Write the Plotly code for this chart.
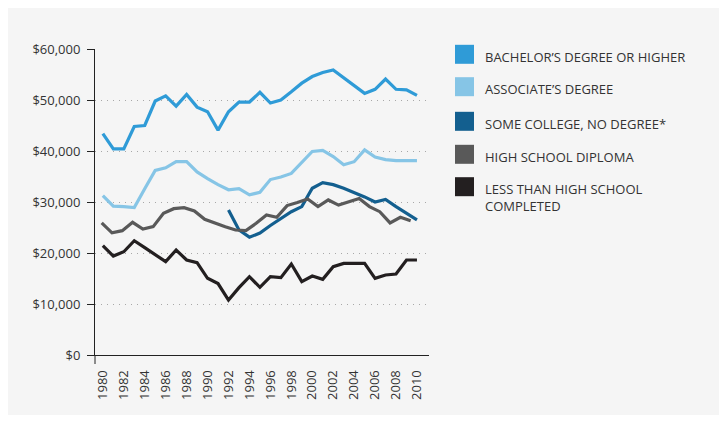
import plotly.graph_objects as go

years = list(range(1980, 2011))
years_some = list(range(1992, 2011))

bachelor = [43400, 40400, 40400, 44800, 45000, 49800, 50800, 48800, 51100, 48600,
            47700, 44100, 47700, 49600, 49600, 51500, 49400, 50000, 51600, 53300,
            54600, 55400, 55900, 54400, 52800, 51300, 52100, 54100, 52100, 52000, 50900]
associate = [31240, 29200, 29100, 28900, 32600, 36200, 36700, 37900, 37900, 35900,
             34600, 33400, 32400, 32600, 31400, 31900, 34400, 34900, 35600, 37800,
             39900, 40100, 38900, 37300, 37900, 40200, 38800, 38300, 38100, 38100, 38100]
some_college = [28430, 24510, 23100, 23900, 25400, 26800, 28100, 29100, 32700, 33800,
                33400, 32700, 31900, 31000, 30000, 30500, 29100, 27800, 26500]
high_school = [25900, 23950, 24380, 26020, 24700, 25160, 27800, 28690, 28880, 28240,
               26600, 25820, 25160, 24510, 24380, 25820, 27450, 27000, 29300, 29900,
               30600, 29100, 30400, 29400, 30050, 30700, 29100, 28100, 25900, 27000, 26330]
less_than_hs = [21430, 19400, 20250, 22400, 21040, 19610, 18300, 20590, 18630, 18100,
                15040, 14000, 10780, 13200, 15350, 13270, 15350, 15160, 17840, 14380,
                15490, 14840, 17320, 17970, 17970, 17970, 15040, 15690, 15880, 18630, 18630]

y_ticks = [0, 10000, 20000, 30000, 40000, 50000, 60000]
y_tick_text = ["$0", "$10,000", "$20,000", "$30,000", "$40,000", "$50,000", "$60,000"]
x_ticks = list(range(1980, 2011, 2))

names = ["BACHELOR’S DEGREE OR HIGHER", "ASSOCIATE’S DEGREE", "SOME COLLEGE, NO DEGREE*",
         "HIGH SCHOOL DIPLOMA", "LESS THAN HIGH SCHOOL<br>COMPLETED"]
colors = ["#2f9bd7", "#86c5e6", "#135f8f", "#595959", "#231f20"]

FONT = "Open Sans"
W, H = 711, 407
ML, MR, MT, MB = 87, 290, 41, 60
PW, PH = W - ML - MR, H - MT - MB

def px(x):  # page x -> paper
    return (x - 8 - ML) / PW

def py(y):  # page y -> paper
    return (H - MB - (y - 8)) / PH

fig = go.Figure()
fig.add_trace(go.Scatter(x=years, y=bachelor, mode="lines", line=dict(color=colors[0], width=3.2)))
fig.add_trace(go.Scatter(x=years, y=associate, mode="lines", line=dict(color=colors[1], width=3.2)))
fig.add_trace(go.Scatter(x=years, y=high_school, mode="lines", line=dict(color=colors[3], width=3.2), xaxis="x2"))
fig.add_trace(go.Scatter(x=years_some, y=some_college, mode="lines", line=dict(color=colors[2], width=3.2)))
fig.add_trace(go.Scatter(x=years, y=less_than_hs, mode="lines", line=dict(color=colors[4], width=3.2)))

rows = [54.3, 86.7, 121.3, 154.3, 186.7]
shapes = []
annotations = []
for name, col, yc in zip(names, colors, rows):
    shapes.append(dict(type="rect", xref="paper", yref="paper",
                       x0=px(455), x1=px(474), y0=py(yc + 9.5), y1=py(yc - 9.5),
                       fillcolor=col, line=dict(width=0)))
    annotations.append(dict(xref="paper", yref="paper", x=px(483), y=py(yc - 8.5),
                            xanchor="left", yanchor="top", align="left", showarrow=False,
                            text=name, font=dict(family=FONT, size=13, color="#333333")))
shapes.append(dict(type="line", xref="paper", yref="paper", x0=0, x1=0, y0=0, y1=-9 / PH,
                   line=dict(color="#222222", width=1)))

fig.update_layout(
    width=W, height=H,
    margin=dict(l=ML, r=MR, t=MT, b=MB, pad=0),
    paper_bgcolor="#f5f5f5", plot_bgcolor="#f5f5f5",
    showlegend=False,
    shapes=shapes, annotations=annotations,
    font=dict(family=FONT, size=13, color="#333333"),
    xaxis=dict(range=[1979.25, 2011.15], tickvals=x_ticks, tickangle=-90,
               showgrid=False, zeroline=False, showline=True, linecolor="#222222", linewidth=1,
               ticks="", ticklabelstandoff=9, tickfont=dict(family=FONT, size=13, color="#333333")),
    xaxis2=dict(range=[1979.35, 2011.78], overlaying="x", visible=False),
    yaxis=dict(range=[0, 60000], tickvals=y_ticks, ticktext=y_tick_text,
               showgrid=True, gridcolor="#a8a8a8", griddash="1px,5px", gridwidth=1,
               zeroline=False, showline=True, linecolor="#222222", linewidth=1,
               ticks="outside", ticklen=7, tickcolor="#222222", ticklabelstandoff=4,
               tickfont=dict(family=FONT, size=13, color="#333333")),
)

fig.write_html("out.html")
